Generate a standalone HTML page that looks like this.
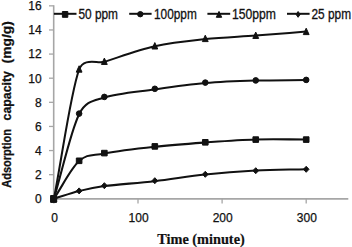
<!DOCTYPE html>
<html><head><meta charset="utf-8"><style>
html,body{margin:0;padding:0;background:#fff;}
svg{display:block;}
</style></head><body>
<svg width="352" height="247" viewBox="0 0 352 247">
<rect width="352" height="247" fill="#fff"/>
<g stroke="#a6a6a6" fill="none">
<line x1="53.70" y1="5.24" x2="53.70" y2="199.60" stroke-width="1.6"/>
<line x1="52.90" y1="198.80" x2="348.3" y2="198.80" stroke-width="1.8"/>
<line x1="49.0" y1="174.68" x2="53.70" y2="174.68" stroke-width="1.3"/>
<line x1="49.0" y1="150.56" x2="53.70" y2="150.56" stroke-width="1.3"/>
<line x1="49.0" y1="126.44" x2="53.70" y2="126.44" stroke-width="1.3"/>
<line x1="49.0" y1="102.32" x2="53.70" y2="102.32" stroke-width="1.3"/>
<line x1="49.0" y1="78.20" x2="53.70" y2="78.20" stroke-width="1.3"/>
<line x1="49.0" y1="54.08" x2="53.70" y2="54.08" stroke-width="1.3"/>
<line x1="49.0" y1="29.96" x2="53.70" y2="29.96" stroke-width="1.3"/>
<line x1="49.0" y1="5.84" x2="53.70" y2="5.84" stroke-width="1.3"/>
<line x1="53.90" y1="198.80" x2="53.90" y2="203.5" stroke-width="1.3"/>
<line x1="138.00" y1="198.80" x2="138.00" y2="203.5" stroke-width="1.3"/>
<line x1="222.10" y1="198.80" x2="222.10" y2="203.5" stroke-width="1.3"/>
<line x1="306.20" y1="198.80" x2="306.20" y2="203.5" stroke-width="1.3"/>
</g>
<g font-family="Liberation Sans" font-size="12" fill="#111" stroke="#111" stroke-width="0.25" text-anchor="end">
<text x="41.6" y="203.10">0</text>
<text x="41.6" y="178.98">2</text>
<text x="41.6" y="154.86">4</text>
<text x="41.6" y="130.74">6</text>
<text x="41.6" y="106.62">8</text>
<text x="41.6" y="82.50">10</text>
<text x="41.6" y="58.38">12</text>
<text x="41.6" y="34.26">14</text>
<text x="41.6" y="10.14">16</text>
</g>
<g font-family="Liberation Sans" font-size="12" fill="#111" stroke="#111" stroke-width="0.25" text-anchor="middle">
<text x="54.50" y="221.8">0</text>
<text x="138.60" y="221.8">100</text>
<text x="222.70" y="221.8">200</text>
<text x="306.80" y="221.8">300</text>
</g>
<text x="201" y="243.5" font-family="Liberation Serif" font-weight="bold" font-size="14.3" fill="#111" stroke="#111" stroke-width="0.2" text-anchor="middle">Time (minute)</text>
<text transform="translate(11.4 187.70) rotate(-90)" font-family="Liberation Sans" font-weight="bold" font-size="13.5" fill="#111" stroke="#111" stroke-width="0.3" textLength="58.70" lengthAdjust="spacingAndGlyphs">Adsorption</text>
<text transform="translate(11.4 120.40) rotate(-90)" font-family="Liberation Sans" font-weight="bold" font-size="13.5" fill="#111" stroke="#111" stroke-width="0.3" textLength="49.40" lengthAdjust="spacingAndGlyphs">capacity</text>
<text transform="translate(11.4 63.40) rotate(-90)" font-family="Liberation Sans" font-weight="bold" font-size="13.5" fill="#111" stroke="#111" stroke-width="0.3" textLength="42.20" lengthAdjust="spacingAndGlyphs">(mg/g)</text>
<g fill="none" stroke="#111" stroke-width="2.05" stroke-linejoin="round">
<path d="M53.90 198.80 C62.31 186.23 70.72 168.67 79.13 161.10 C87.54 153.53 91.75 155.80 104.36 153.40 C116.97 151.00 138.00 148.52 154.82 146.70 C171.64 144.88 188.46 143.70 205.28 142.50 C222.10 141.30 238.92 140.00 255.74 139.50 C272.56 139.00 289.38 139.50 306.20 139.50"/>
<path d="M53.90 198.80 C62.31 170.60 70.72 131.08 79.13 114.20 C85.88 100.66 94.24 100.82 104.36 97.50 C116.97 93.37 138.00 91.80 154.82 89.40 C171.64 87.00 188.46 84.57 205.28 83.10 C222.10 81.63 238.92 81.10 255.74 80.60 C272.56 80.10 289.38 80.27 306.20 80.10"/>
<path d="M53.90 198.80 C62.31 155.70 70.72 92.33 79.13 69.50 C83.69 57.12 97.52 63.90 104.36 61.80 C116.97 57.93 138.00 50.08 154.82 46.30 C171.64 42.52 188.46 40.90 205.28 39.10 C222.10 37.30 238.92 36.75 255.74 35.50 C272.56 34.25 289.38 32.90 306.20 31.60"/>
<path d="M53.90 198.80 C62.31 196.22 70.72 193.17 79.13 191.05 C87.54 188.93 91.75 187.75 104.36 186.10 C116.97 184.45 138.00 183.09 154.82 181.15 C171.64 179.21 188.46 176.22 205.28 174.45 C222.10 172.68 238.92 171.43 255.74 170.55 C272.56 169.67 289.38 169.62 306.20 169.15"/>
</g>
<g fill="#111" stroke="#111" stroke-width="1" stroke-linejoin="round">
<rect x="51.10" y="196.00" width="5.60" height="5.60"/>
<rect x="76.33" y="158.00" width="5.60" height="5.60"/>
<rect x="101.56" y="150.30" width="5.60" height="5.60"/>
<rect x="152.02" y="143.60" width="5.60" height="5.60"/>
<rect x="202.48" y="139.50" width="5.60" height="5.60"/>
<rect x="252.94" y="136.80" width="5.60" height="5.60"/>
<rect x="303.40" y="136.80" width="5.60" height="5.60"/>
<circle cx="53.90" cy="198.80" r="2.80"/>
<circle cx="79.13" cy="113.60" r="2.80"/>
<circle cx="104.36" cy="96.90" r="2.80"/>
<circle cx="154.82" cy="88.80" r="2.80"/>
<circle cx="205.28" cy="82.60" r="2.80"/>
<circle cx="255.74" cy="80.40" r="2.80"/>
<circle cx="306.20" cy="79.90" r="2.80"/>
<path d="M53.90 195.30 L56.80 201.70 L51.00 201.70 Z"/>
<path d="M79.13 65.75 L82.03 72.15 L76.23 72.15 Z"/>
<path d="M104.36 58.05 L107.26 64.45 L101.46 64.45 Z"/>
<path d="M154.82 42.60 L157.72 49.00 L151.92 49.00 Z"/>
<path d="M205.28 35.20 L208.18 41.60 L202.38 41.60 Z"/>
<path d="M255.74 32.05 L258.64 38.45 L252.84 38.45 Z"/>
<path d="M306.20 28.20 L309.10 34.60 L303.30 34.60 Z"/>
<path d="M53.90 195.80 L56.70 198.80 L53.90 201.80 L51.10 198.80 Z"/>
<path d="M79.13 187.90 L81.93 190.90 L79.13 193.90 L76.33 190.90 Z"/>
<path d="M104.36 182.70 L107.16 185.70 L104.36 188.70 L101.56 185.70 Z"/>
<path d="M154.82 177.70 L157.62 180.70 L154.82 183.70 L152.02 180.70 Z"/>
<path d="M205.28 171.30 L208.08 174.30 L205.28 177.30 L202.48 174.30 Z"/>
<path d="M255.74 167.70 L258.54 170.70 L255.74 173.70 L252.94 170.70 Z"/>
<path d="M306.20 166.30 L309.00 169.30 L306.20 172.30 L303.40 169.30 Z"/>
<rect x="50.6" y="195.5" width="5.9" height="6.9"/>
</g>
<g>
<line x1="53.90" y1="13.80" x2="76.50" y2="13.80" stroke="#111" stroke-width="2"/>
<g fill="#111" stroke="#111" stroke-width="1" stroke-linejoin="round"><rect x="62.40" y="11.50" width="5.4" height="5.8"/></g>
<text x="78.40" y="18.70" font-family="Liberation Sans" font-size="14" fill="#111" stroke="#111" stroke-width="0.3" textLength="39.6" lengthAdjust="spacingAndGlyphs">50 ppm</text>
<line x1="129.20" y1="13.80" x2="151.60" y2="13.80" stroke="#111" stroke-width="2"/>
<g fill="#111" stroke="#111" stroke-width="1" stroke-linejoin="round"><circle cx="140.30" cy="14.2" r="2.7"/></g>
<text x="154.00" y="18.70" font-family="Liberation Sans" font-size="14" fill="#111" stroke="#111" stroke-width="0.3" textLength="42.8" lengthAdjust="spacingAndGlyphs">100ppm</text>
<line x1="207.40" y1="13.80" x2="230.20" y2="13.80" stroke="#111" stroke-width="2"/>
<g fill="#111" stroke="#111" stroke-width="1" stroke-linejoin="round"><path d="M219.00 11.4 L221.70 17.3 L216.30 17.3 Z"/></g>
<text x="232.00" y="18.70" font-family="Liberation Sans" font-size="14" fill="#111" stroke="#111" stroke-width="0.3" textLength="44.0" lengthAdjust="spacingAndGlyphs">150ppm</text>
<line x1="287.00" y1="13.80" x2="309.60" y2="13.80" stroke="#111" stroke-width="2"/>
<g fill="#111" stroke="#111" stroke-width="1" stroke-linejoin="round"><path d="M298.10 11.50 L300.10 14.40 L298.10 17.30 L296.10 14.40 Z"/></g>
<text x="311.50" y="18.70" font-family="Liberation Sans" font-size="14" fill="#111" stroke="#111" stroke-width="0.3" textLength="39.6" lengthAdjust="spacingAndGlyphs">25 ppm</text>
</g>
</svg>
</body></html>
